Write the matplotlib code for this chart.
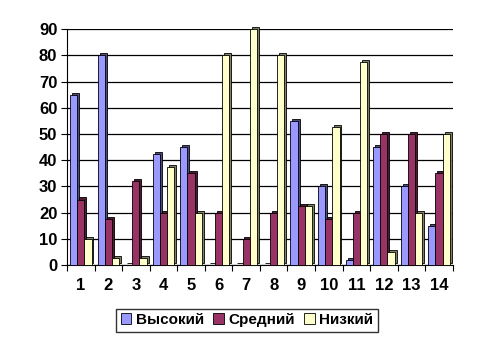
import numpy as np
import matplotlib.pyplot as plt
from matplotlib.patches import Patch

categories = [str(i) for i in range(1, 15)]
high = [65, 80, 0, 42.5, 45, 0, 0, 0, 55, 30, 2, 45, 30, 15]
mid = [25, 17.5, 32, 20, 35, 20, 10, 20, 22.5, 17.5, 20, 50, 50, 35]
low = [10, 2.5, 2.5, 37.5, 20, 80, 90, 80, 22.5, 52.5, 77.5, 5, 20, 50]
series_names = ["Высокий", "Средний", "Низкий"]

face_colors = ["#9999ff", "#993366", "#ffffcc"]
side_colors = ["#4c4c80", "#4d1a33", "#808066"]

plt.rcParams["font.family"] = ["Liberation Sans", "DejaVu Sans"]
plt.rcParams["font.weight"] = "bold"

fig = plt.figure(figsize=(4.94, 3.42), dpi=100)
ax = fig.add_axes([0.1356, 0.225, 0.781, 0.69])

x = np.arange(len(categories))
width = 0.26
dx, dy = 0.07, 0.8

for k, vals in enumerate([high, mid, low]):
    pos = x + (k - 1) * width
    vals = np.array(vals, dtype=float)
    # side/top face (depth)
    ax.bar(pos + dx, vals, width, bottom=dy, color=side_colors[k],
           edgecolor="black", linewidth=0.6, zorder=3, clip_on=False)
    ax.bar(pos, vals, width, color=face_colors[k],
           edgecolor="black", linewidth=0.6, zorder=4, clip_on=False)

ax.set_xlim(-0.5, len(categories) - 0.5)
ax.set_ylim(0, 90)
ax.set_yticks(np.arange(0, 91, 10))
ax.set_xticks(x)
ax.set_xticklabels(categories)
ax.set_xticks(np.arange(-0.5, len(categories), 1), minor=True)
ax.tick_params(axis="x", which="major", length=0, pad=9, labelsize=12)
ax.tick_params(axis="x", which="minor", length=4, width=0.8)
ax.tick_params(axis="y", length=4, width=0.8, labelsize=12, pad=3)

ax.grid(axis="y", color="black", linewidth=0.9, zorder=0)
ax.set_axisbelow(True)
for s in ["top", "right"]:
    ax.spines[s].set_visible(False)
ax.spines["left"].set_linewidth(0.8)
ax.spines["bottom"].set_linewidth(0.8)

handles = [Patch(facecolor=c, edgecolor="black", linewidth=0.6) for c in face_colors]
fig.legend(handles, series_names, loc="center", bbox_to_anchor=(0.5, 0.064),
           ncol=3, frameon=True, fancybox=False, edgecolor="black",
           handlelength=0.7, handleheight=0.7, handletextpad=0.3,
           columnspacing=0.6, borderpad=0.3,
           prop={"size": 11, "weight": "bold"})

fig.savefig("out.png", dpi=100)
